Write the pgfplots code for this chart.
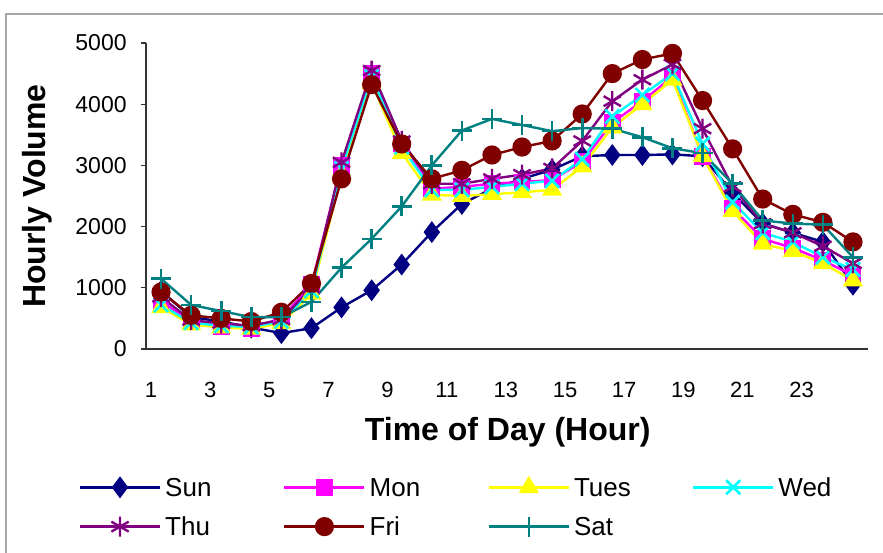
\documentclass[border=0pt]{standalone}
\usepackage{fontspec}
\setmainfont{Liberation Sans}
\usepackage{pgfplots}
\usepackage{pgfplotstable}
\pgfplotsset{compat=1.18}
\definecolor{sunc}{RGB}{0,0,128}
\definecolor{monc}{RGB}{255,0,255}
\definecolor{tuec}{RGB}{255,255,0}
\definecolor{wedc}{RGB}{0,255,255}
\definecolor{thuc}{RGB}{128,0,128}
\definecolor{fric}{RGB}{128,0,0}
\definecolor{satc}{RGB}{0,128,128}
\pgfplotstableread{
x Sun Mon Tues Wed Thu Fri Sat
1 950 780 680 720 850 930 1150
2 520 450 400 430 470 550 720
3 450 370 350 380 420 500 620
4 350 340 330 360 380 450 520
5 260 500 420 450 480 600 520
6 340 1050 900 950 1000 1070 770
7 680 3000 2850 2950 3050 2780 1330
8 960 4500 4350 4450 4550 4320 1800
9 1380 3350 3200 3300 3400 3350 2330
10 1910 2620 2520 2600 2700 2780 3000
11 2370 2650 2500 2600 2700 2920 3570
12 2620 2700 2530 2650 2780 3170 3760
13 2780 2730 2560 2700 2850 3300 3660
14 2930 2760 2600 2750 2950 3400 3560
15 3150 3060 2980 3100 3400 3840 3610
16 3170 3700 3620 3800 4050 4500 3600
17 3170 4050 4000 4150 4400 4730 3460
18 3180 4450 4400 4500 4650 4830 3280
19 3150 3150 3150 3350 3600 4060 3200
20 2550 2300 2250 2400 2650 3270 2700
21 2050 1800 1720 1900 2050 2450 2100
22 1900 1650 1600 1750 1900 2200 2050
23 1750 1450 1400 1500 1680 2070 2030
24 1050 1200 1120 1300 1400 1750 1500
}\datatable
\begin{document}
\begin{tikzpicture}
\clip (-73pt,-101.5pt) rectangle (368.5pt,174.5pt);
\draw[gray!70, line width=0.8pt] (-70pt,-120pt) -- (-70pt,167.5pt) -- (400pt,167.5pt);
\begin{axis}[
  at={(0,0)}, anchor=south west,
  scale only axis, width=361pt, height=153pt,
  xmin=0.5, xmax=24.5, ymin=0, ymax=5000,
  axis x line*=bottom, axis y line*=left,
  axis line style={black!80, line width=0.6pt},
  separate axis lines,
  x axis line style={-}, y axis line style={-},
  xtick={0.67,2.635,4.60,6.57,8.53,10.50,12.46,14.43,16.39,18.36,20.32,22.29},
  xticklabels={1,3,5,7,9,11,13,15,17,19,21,23},
  xtick style={draw=none},
  minor xtick={0.5,1.5,...,24.5},
  minor tick length=2.5pt,
  major tick length=2.5pt,
  tick align=outside,
  tick style={black!80, line width=0.6pt},
  ytick={0,1000,...,5000},
  /pgf/number format/assume math mode=true,
  scaled y ticks=false,
  yticklabel style={/pgf/number format/1000 sep={}, font=\fontsize{11.5}{13}\selectfont, anchor=east, inner sep=0pt, xshift=-7pt},
  xticklabel style={font=\fontsize{11}{13}\selectfont, anchor=center, inner sep=0pt, yshift=-18pt},
  xlabel={\textbf{Time of Day (Hour)}},
  ylabel={\textbf{Hourly Volume}},
  label style={font=\fontsize{16}{19}\selectfont},
  xlabel style={at={(axis description cs:0.501,-0.271)}, anchor=center},
  ylabel style={at={(axis description cs:-0.151,0.5)}, anchor=center, rotate=0},
  every axis plot/.append style={line width=1.2pt},
  legend columns=4,
  legend style={at={(axis description cs:-0.093,-0.4216)}, anchor=north west, draw=none, fill=none,
    inner sep=0pt, outer sep=0pt, row sep=10pt,
    font=\fontsize{13}{15}\selectfont,
    nodes={text width=59pt, inner sep=0pt, text height=9.3pt, text depth=0pt, align=left},
    /tikz/every odd column/.append style={column sep=2pt}},
  legend cell align=left,
  legend image code/.code={\draw[mark repeat=2,mark phase=2] plot coordinates {(0pt,0pt) (20pt,0pt) (40pt,0pt)};},
]
\addplot[color=sunc, mark=diamond*, mark size=4.5pt, mark options={solid, fill=sunc}] table[x=x,y=Sun] {\datatable};
\addlegendentry{Sun}
\addplot[color=monc, mark=square*, mark size=3.6pt, mark options={solid, fill=monc}] table[x=x,y=Mon] {\datatable};
\addlegendentry{Mon}
\addplot[color=tuec, mark=triangle*, mark size=4.6pt, mark options={solid, fill=tuec}] table[x=x,y=Tues] {\datatable};
\addlegendentry{Tues}
\addplot[color=wedc, mark=x, mark size=5pt, mark options={solid, line width=1.3pt}] table[x=x,y=Wed] {\datatable};
\addlegendentry{Wed}
\addplot[color=thuc, mark=asterisk, mark size=5pt, mark options={solid, line width=1.2pt}] table[x=x,y=Thu] {\datatable};
\addlegendentry{Thu}
\addplot[color=fric, mark=*, mark size=4.2pt, mark options={solid, fill=fric}] table[x=x,y=Fri] {\datatable};
\addlegendentry{Fri}
\addplot[color=satc, mark=+, mark size=5pt, mark options={solid, line width=1.3pt}] table[x=x,y=Sat] {\datatable};
\addlegendentry{Sat}
\end{axis}
\end{tikzpicture}
\end{document}
